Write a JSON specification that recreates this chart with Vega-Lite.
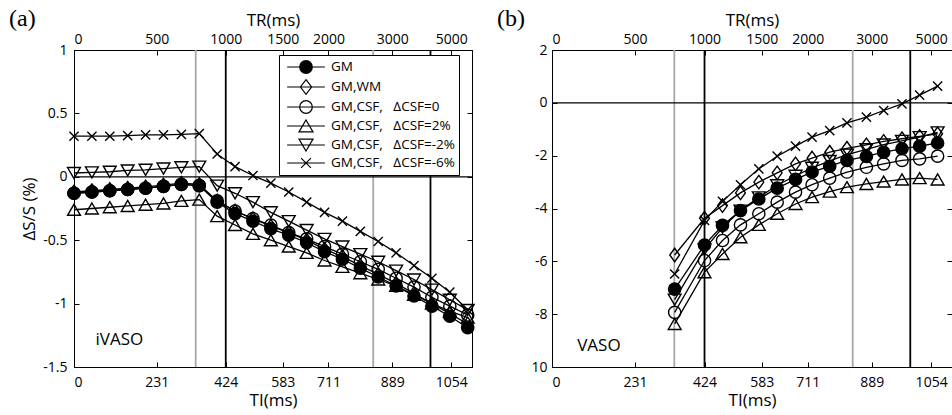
{
  "$schema": "https://vega.github.io/schema/vega-lite/v6.json",
  "background": "white",
  "padding": {"left": 8, "top": 6, "right": 0, "bottom": 0},
  "config": {
    "font": "Open Sans",
    "view": {"stroke": "black", "strokeWidth": 1},
    "axis": {"grid": false, "domainColor": "black", "tickColor": "black", "labelColor": "black", "titleColor": "black", "labelFont": "Open Sans", "titleFont": "Open Sans", "labelFontSize": 14, "titleFontSize": 17, "titleFontWeight": "normal", "tickSize": -5, "labelPadding": 6, "titlePadding": 3}
  },
  "datasets": {
    "a": [
      {"TI": 0, "GM": -0.13, "GM,WM": -0.12, "GM,CSF,\u00a0\u00a0\u00a0ΔCSF=0": -0.13, "GM,CSF,\u00a0\u00a0\u00a0ΔCSF=2%": -0.26, "GM,CSF,\u00a0\u00a0\u00a0ΔCSF=-2%": 0.03, "GM,CSF,\u00a0\u00a0\u00a0ΔCSF=-6%": 0.32},
      {"TI": 50, "GM": -0.12, "GM,WM": -0.11, "GM,CSF,\u00a0\u00a0\u00a0ΔCSF=0": -0.12, "GM,CSF,\u00a0\u00a0\u00a0ΔCSF=2%": -0.25, "GM,CSF,\u00a0\u00a0\u00a0ΔCSF=-2%": 0.035, "GM,CSF,\u00a0\u00a0\u00a0ΔCSF=-6%": 0.32},
      {"TI": 100, "GM": -0.11, "GM,WM": -0.10, "GM,CSF,\u00a0\u00a0\u00a0ΔCSF=0": -0.11, "GM,CSF,\u00a0\u00a0\u00a0ΔCSF=2%": -0.24, "GM,CSF,\u00a0\u00a0\u00a0ΔCSF=-2%": 0.04, "GM,CSF,\u00a0\u00a0\u00a0ΔCSF=-6%": 0.32},
      {"TI": 150, "GM": -0.10, "GM,WM": -0.09, "GM,CSF,\u00a0\u00a0\u00a0ΔCSF=0": -0.10, "GM,CSF,\u00a0\u00a0\u00a0ΔCSF=2%": -0.23, "GM,CSF,\u00a0\u00a0\u00a0ΔCSF=-2%": 0.05, "GM,CSF,\u00a0\u00a0\u00a0ΔCSF=-6%": 0.325},
      {"TI": 200, "GM": -0.09, "GM,WM": -0.08, "GM,CSF,\u00a0\u00a0\u00a0ΔCSF=0": -0.09, "GM,CSF,\u00a0\u00a0\u00a0ΔCSF=2%": -0.22, "GM,CSF,\u00a0\u00a0\u00a0ΔCSF=-2%": 0.055, "GM,CSF,\u00a0\u00a0\u00a0ΔCSF=-6%": 0.33},
      {"TI": 250, "GM": -0.075, "GM,WM": -0.065, "GM,CSF,\u00a0\u00a0\u00a0ΔCSF=0": -0.075, "GM,CSF,\u00a0\u00a0\u00a0ΔCSF=2%": -0.21, "GM,CSF,\u00a0\u00a0\u00a0ΔCSF=-2%": 0.065, "GM,CSF,\u00a0\u00a0\u00a0ΔCSF=-6%": 0.33},
      {"TI": 300, "GM": -0.06, "GM,WM": -0.05, "GM,CSF,\u00a0\u00a0\u00a0ΔCSF=0": -0.06, "GM,CSF,\u00a0\u00a0\u00a0ΔCSF=2%": -0.19, "GM,CSF,\u00a0\u00a0\u00a0ΔCSF=-2%": 0.075, "GM,CSF,\u00a0\u00a0\u00a0ΔCSF=-6%": 0.335},
      {"TI": 350, "GM": -0.07, "GM,WM": -0.06, "GM,CSF,\u00a0\u00a0\u00a0ΔCSF=0": -0.07, "GM,CSF,\u00a0\u00a0\u00a0ΔCSF=2%": -0.18, "GM,CSF,\u00a0\u00a0\u00a0ΔCSF=-2%": 0.08, "GM,CSF,\u00a0\u00a0\u00a0ΔCSF=-6%": 0.34},
      {"TI": 400, "GM": -0.20, "GM,WM": -0.19, "GM,CSF,\u00a0\u00a0\u00a0ΔCSF=0": -0.19, "GM,CSF,\u00a0\u00a0\u00a0ΔCSF=2%": -0.31, "GM,CSF,\u00a0\u00a0\u00a0ΔCSF=-2%": -0.07, "GM,CSF,\u00a0\u00a0\u00a0ΔCSF=-6%": 0.18},
      {"TI": 450, "GM": -0.29, "GM,WM": -0.27, "GM,CSF,\u00a0\u00a0\u00a0ΔCSF=0": -0.27, "GM,CSF,\u00a0\u00a0\u00a0ΔCSF=2%": -0.38, "GM,CSF,\u00a0\u00a0\u00a0ΔCSF=-2%": -0.13, "GM,CSF,\u00a0\u00a0\u00a0ΔCSF=-6%": 0.08},
      {"TI": 500, "GM": -0.35, "GM,WM": -0.33, "GM,CSF,\u00a0\u00a0\u00a0ΔCSF=0": -0.33, "GM,CSF,\u00a0\u00a0\u00a0ΔCSF=2%": -0.45, "GM,CSF,\u00a0\u00a0\u00a0ΔCSF=-2%": -0.20, "GM,CSF,\u00a0\u00a0\u00a0ΔCSF=-6%": 0.01},
      {"TI": 550, "GM": -0.41, "GM,WM": -0.39, "GM,CSF,\u00a0\u00a0\u00a0ΔCSF=0": -0.38, "GM,CSF,\u00a0\u00a0\u00a0ΔCSF=2%": -0.50, "GM,CSF,\u00a0\u00a0\u00a0ΔCSF=-2%": -0.28, "GM,CSF,\u00a0\u00a0\u00a0ΔCSF=-6%": -0.05},
      {"TI": 600, "GM": -0.46, "GM,WM": -0.44, "GM,CSF,\u00a0\u00a0\u00a0ΔCSF=0": -0.44, "GM,CSF,\u00a0\u00a0\u00a0ΔCSF=2%": -0.55, "GM,CSF,\u00a0\u00a0\u00a0ΔCSF=-2%": -0.35, "GM,CSF,\u00a0\u00a0\u00a0ΔCSF=-6%": -0.12},
      {"TI": 650, "GM": -0.52, "GM,WM": -0.50, "GM,CSF,\u00a0\u00a0\u00a0ΔCSF=0": -0.49, "GM,CSF,\u00a0\u00a0\u00a0ΔCSF=2%": -0.60, "GM,CSF,\u00a0\u00a0\u00a0ΔCSF=-2%": -0.42, "GM,CSF,\u00a0\u00a0\u00a0ΔCSF=-6%": -0.20},
      {"TI": 700, "GM": -0.59, "GM,WM": -0.57, "GM,CSF,\u00a0\u00a0\u00a0ΔCSF=0": -0.55, "GM,CSF,\u00a0\u00a0\u00a0ΔCSF=2%": -0.66, "GM,CSF,\u00a0\u00a0\u00a0ΔCSF=-2%": -0.49, "GM,CSF,\u00a0\u00a0\u00a0ΔCSF=-6%": -0.28},
      {"TI": 750, "GM": -0.65, "GM,WM": -0.63, "GM,CSF,\u00a0\u00a0\u00a0ΔCSF=0": -0.61, "GM,CSF,\u00a0\u00a0\u00a0ΔCSF=2%": -0.71, "GM,CSF,\u00a0\u00a0\u00a0ΔCSF=-2%": -0.55, "GM,CSF,\u00a0\u00a0\u00a0ΔCSF=-6%": -0.35},
      {"TI": 800, "GM": -0.72, "GM,WM": -0.70, "GM,CSF,\u00a0\u00a0\u00a0ΔCSF=0": -0.67, "GM,CSF,\u00a0\u00a0\u00a0ΔCSF=2%": -0.76, "GM,CSF,\u00a0\u00a0\u00a0ΔCSF=-2%": -0.61, "GM,CSF,\u00a0\u00a0\u00a0ΔCSF=-6%": -0.43},
      {"TI": 850, "GM": -0.79, "GM,WM": -0.77, "GM,CSF,\u00a0\u00a0\u00a0ΔCSF=0": -0.73, "GM,CSF,\u00a0\u00a0\u00a0ΔCSF=2%": -0.81, "GM,CSF,\u00a0\u00a0\u00a0ΔCSF=-2%": -0.67, "GM,CSF,\u00a0\u00a0\u00a0ΔCSF=-6%": -0.51},
      {"TI": 900, "GM": -0.86, "GM,WM": -0.84, "GM,CSF,\u00a0\u00a0\u00a0ΔCSF=0": -0.80, "GM,CSF,\u00a0\u00a0\u00a0ΔCSF=2%": -0.86, "GM,CSF,\u00a0\u00a0\u00a0ΔCSF=-2%": -0.74, "GM,CSF,\u00a0\u00a0\u00a0ΔCSF=-6%": -0.60},
      {"TI": 950, "GM": -0.94, "GM,WM": -0.92, "GM,CSF,\u00a0\u00a0\u00a0ΔCSF=0": -0.87, "GM,CSF,\u00a0\u00a0\u00a0ΔCSF=2%": -0.93, "GM,CSF,\u00a0\u00a0\u00a0ΔCSF=-2%": -0.81, "GM,CSF,\u00a0\u00a0\u00a0ΔCSF=-6%": -0.70},
      {"TI": 1000, "GM": -1.02, "GM,WM": -1.00, "GM,CSF,\u00a0\u00a0\u00a0ΔCSF=0": -0.95, "GM,CSF,\u00a0\u00a0\u00a0ΔCSF=2%": -1.00, "GM,CSF,\u00a0\u00a0\u00a0ΔCSF=-2%": -0.89, "GM,CSF,\u00a0\u00a0\u00a0ΔCSF=-6%": -0.80},
      {"TI": 1050, "GM": -1.10, "GM,WM": -1.08, "GM,CSF,\u00a0\u00a0\u00a0ΔCSF=0": -1.02, "GM,CSF,\u00a0\u00a0\u00a0ΔCSF=2%": -1.06, "GM,CSF,\u00a0\u00a0\u00a0ΔCSF=-2%": -0.97, "GM,CSF,\u00a0\u00a0\u00a0ΔCSF=-6%": -0.91},
      {"TI": 1100, "GM": -1.19, "GM,WM": -1.16, "GM,CSF,\u00a0\u00a0\u00a0ΔCSF=0": -1.09, "GM,CSF,\u00a0\u00a0\u00a0ΔCSF=2%": -1.11, "GM,CSF,\u00a0\u00a0\u00a0ΔCSF=-2%": -1.05, "GM,CSF,\u00a0\u00a0\u00a0ΔCSF=-6%": -1.05}
    ],
    "b": [
      {"TI": 341, "GM": -7.05, "GM,WM": -5.76, "GM,CSF,\u00a0\u00a0\u00a0ΔCSF=0": -7.93, "GM,CSF,\u00a0\u00a0\u00a0ΔCSF=2%": -8.37, "GM,CSF,\u00a0\u00a0\u00a0ΔCSF=-2%": -7.45, "GM,CSF,\u00a0\u00a0\u00a0ΔCSF=-6%": -6.48},
      {"TI": 424, "GM": -5.38, "GM,WM": -4.37, "GM,CSF,\u00a0\u00a0\u00a0ΔCSF=0": -5.97, "GM,CSF,\u00a0\u00a0\u00a0ΔCSF=2%": -6.41, "GM,CSF,\u00a0\u00a0\u00a0ΔCSF=-2%": -5.55, "GM,CSF,\u00a0\u00a0\u00a0ΔCSF=-6%": -4.45},
      {"TI": 474, "GM": -4.64, "GM,WM": -3.89, "GM,CSF,\u00a0\u00a0\u00a0ΔCSF=0": -5.21, "GM,CSF,\u00a0\u00a0\u00a0ΔCSF=2%": -5.72, "GM,CSF,\u00a0\u00a0\u00a0ΔCSF=-2%": -4.72, "GM,CSF,\u00a0\u00a0\u00a0ΔCSF=-6%": -3.73},
      {"TI": 524, "GM": -4.08, "GM,WM": -3.41, "GM,CSF,\u00a0\u00a0\u00a0ΔCSF=0": -4.62, "GM,CSF,\u00a0\u00a0\u00a0ΔCSF=2%": -5.09, "GM,CSF,\u00a0\u00a0\u00a0ΔCSF=-2%": -4.08, "GM,CSF,\u00a0\u00a0\u00a0ΔCSF=-6%": -3.10},
      {"TI": 575, "GM": -3.64, "GM,WM": -3.00, "GM,CSF,\u00a0\u00a0\u00a0ΔCSF=0": -4.20, "GM,CSF,\u00a0\u00a0\u00a0ΔCSF=2%": -4.62, "GM,CSF,\u00a0\u00a0\u00a0ΔCSF=-2%": -3.58, "GM,CSF,\u00a0\u00a0\u00a0ΔCSF=-6%": -2.50},
      {"TI": 626, "GM": -3.23, "GM,WM": -2.65, "GM,CSF,\u00a0\u00a0\u00a0ΔCSF=0": -3.76, "GM,CSF,\u00a0\u00a0\u00a0ΔCSF=2%": -4.20, "GM,CSF,\u00a0\u00a0\u00a0ΔCSF=-2%": -3.12, "GM,CSF,\u00a0\u00a0\u00a0ΔCSF=-6%": -2.02},
      {"TI": 677, "GM": -2.90, "GM,WM": -2.31, "GM,CSF,\u00a0\u00a0\u00a0ΔCSF=0": -3.38, "GM,CSF,\u00a0\u00a0\u00a0ΔCSF=2%": -3.83, "GM,CSF,\u00a0\u00a0\u00a0ΔCSF=-2%": -2.76, "GM,CSF,\u00a0\u00a0\u00a0ΔCSF=-6%": -1.64},
      {"TI": 723, "GM": -2.62, "GM,WM": -2.09, "GM,CSF,\u00a0\u00a0\u00a0ΔCSF=0": -3.10, "GM,CSF,\u00a0\u00a0\u00a0ΔCSF=2%": -3.57, "GM,CSF,\u00a0\u00a0\u00a0ΔCSF=-2%": -2.46, "GM,CSF,\u00a0\u00a0\u00a0ΔCSF=-6%": -1.30},
      {"TI": 772, "GM": -2.40, "GM,WM": -1.87, "GM,CSF,\u00a0\u00a0\u00a0ΔCSF=0": -2.85, "GM,CSF,\u00a0\u00a0\u00a0ΔCSF=2%": -3.36, "GM,CSF,\u00a0\u00a0\u00a0ΔCSF=-2%": -2.20, "GM,CSF,\u00a0\u00a0\u00a0ΔCSF=-6%": -1.05},
      {"TI": 820, "GM": -2.18, "GM,WM": -1.72, "GM,CSF,\u00a0\u00a0\u00a0ΔCSF=0": -2.62, "GM,CSF,\u00a0\u00a0\u00a0ΔCSF=2%": -3.19, "GM,CSF,\u00a0\u00a0\u00a0ΔCSF=-2%": -1.96, "GM,CSF,\u00a0\u00a0\u00a0ΔCSF=-6%": -0.76},
      {"TI": 874, "GM": -2.03, "GM,WM": -1.59, "GM,CSF,\u00a0\u00a0\u00a0ΔCSF=0": -2.44, "GM,CSF,\u00a0\u00a0\u00a0ΔCSF=2%": -3.07, "GM,CSF,\u00a0\u00a0\u00a0ΔCSF=-2%": -1.76, "GM,CSF,\u00a0\u00a0\u00a0ΔCSF=-6%": -0.54},
      {"TI": 922, "GM": -1.87, "GM,WM": -1.46, "GM,CSF,\u00a0\u00a0\u00a0ΔCSF=0": -2.31, "GM,CSF,\u00a0\u00a0\u00a0ΔCSF=2%": -2.98, "GM,CSF,\u00a0\u00a0\u00a0ΔCSF=-2%": -1.58, "GM,CSF,\u00a0\u00a0\u00a0ΔCSF=-6%": -0.29},
      {"TI": 973, "GM": -1.74, "GM,WM": -1.36, "GM,CSF,\u00a0\u00a0\u00a0ΔCSF=0": -2.18, "GM,CSF,\u00a0\u00a0\u00a0ΔCSF=2%": -2.90, "GM,CSF,\u00a0\u00a0\u00a0ΔCSF=-2%": -1.44, "GM,CSF,\u00a0\u00a0\u00a0ΔCSF=-6%": -0.04},
      {"TI": 1022, "GM": -1.64, "GM,WM": -1.27, "GM,CSF,\u00a0\u00a0\u00a0ΔCSF=0": -2.12, "GM,CSF,\u00a0\u00a0\u00a0ΔCSF=2%": -2.85, "GM,CSF,\u00a0\u00a0\u00a0ΔCSF=-2%": -1.30, "GM,CSF,\u00a0\u00a0\u00a0ΔCSF=-6%": 0.29},
      {"TI": 1072, "GM": -1.52, "GM,WM": -1.17, "GM,CSF,\u00a0\u00a0\u00a0ΔCSF=0": -2.02, "GM,CSF,\u00a0\u00a0\u00a0ΔCSF=2%": -2.90, "GM,CSF,\u00a0\u00a0\u00a0ΔCSF=-2%": -1.12, "GM,CSF,\u00a0\u00a0\u00a0ΔCSF=-6%": 0.63}
    ],
    "vlines": [
      {"TI": 340, "kind": "gray"},
      {"TI": 424, "kind": "black"},
      {"TI": 836, "kind": "gray"},
      {"TI": 996, "kind": "black"}
    ]
  },
  "spacing": 18,
  "resolve": {"scale": {"shape": "independent", "fill": "independent", "stroke": "independent"}, "legend": {"shape": "independent", "fill": "independent"}},
  "hconcat": [
    {
      "width": 398,
      "height": 317,
      "title": {"text": "(a)", "anchor": "start", "frame": "group", "font": "Liberation Serif", "fontSize": 24, "fontWeight": "normal", "color": "black", "dx": -65, "dy": 20, "offset": 0},
      "resolve": {"axis": {"x": "independent", "y": "independent"}, "scale": {"shape": "independent"}, "legend": {"shape": "independent"}},
      "layer": [
        {
          "data": {"name": "vlines"},
          "mark": {"type": "rule", "strokeWidth": 1.8},
          "encoding": {
            "x": {"field": "TI", "type": "quantitative", "scale": {"domain": [0, 1112], "nice": false, "zero": false},
              "axis": {"orient": "top", "title": "TR(ms)", "labelPadding": 9, "values": [0, 231, 424, 583, 711, 889, 1054],
                "labelExpr": "datum.value == 231 ? '500' : datum.value == 424 ? '1000' : datum.value == 583 ? '1500' : datum.value == 711 ? '2000' : datum.value == 889 ? '3000' : datum.value == 1054 ? '5000' : '0'"}},
            "stroke": {"field": "kind", "type": "nominal", "scale": {"domain": ["black", "gray"], "range": ["#000000", "#a8a8a8"]}, "legend": null}
          }
        },
        {
          "data": {"values": [{"v": 0}]},
          "mark": {"type": "rule", "strokeWidth": 1.3, "color": "black"},
          "encoding": {
            "y": {"field": "v", "type": "quantitative", "scale": {"domain": [-1.5, 1], "nice": false, "zero": false},
              "axis": {"orient": "right", "labels": false, "title": null, "values": [1, 0.5, 0, -0.5, -1, -1.5]}}
          }
        },
        {
          "data": {"name": "a"},
          "transform": [{"fold": ["GM,WM", "GM,CSF,\u00a0\u00a0\u00a0ΔCSF=0", "GM,CSF,\u00a0\u00a0\u00a0ΔCSF=2%", "GM,CSF,\u00a0\u00a0\u00a0ΔCSF=-2%", "GM,CSF,\u00a0\u00a0\u00a0ΔCSF=-6%", "GM"], "as": ["series", "v"]}],
          "mark": {"type": "line", "stroke": "black", "strokeWidth": 1.3},
          "encoding": {
            "x": {"field": "TI", "type": "quantitative", "scale": {"domain": [0, 1112], "nice": false, "zero": false},
              "axis": {"orient": "bottom", "title": "TI(ms)", "labelPadding": 13, "values": [0, 231, 424, 583, 711, 889, 1054], "labelExpr": "'' + datum.value"}},
            "y": {"field": "v", "type": "quantitative", "scale": {"domain": [-1.5, 1], "nice": false, "zero": false},
              "axis": {"orient": "left", "title": "ΔS/S (%)", "labelPadding": 12, "titlePadding": 4, "values": [1, 0.5, 0, -0.5, -1, -1.5], "labelExpr": "'' + datum.value"}},
            "detail": {"field": "series", "type": "nominal"}
          }
        },
        {
          "data": {"name": "a"},
          "transform": [{"fold": ["GM,WM", "GM,CSF,\u00a0\u00a0\u00a0ΔCSF=0", "GM,CSF,\u00a0\u00a0\u00a0ΔCSF=2%", "GM,CSF,\u00a0\u00a0\u00a0ΔCSF=-2%", "GM,CSF,\u00a0\u00a0\u00a0ΔCSF=-6%", "GM"], "as": ["series", "v"]}],
          "mark": {"type": "point", "stroke": "black", "strokeWidth": 1.4, "opacity": 1, "size": 150},
          "encoding": {
            "x": {"field": "TI", "type": "quantitative", "scale": {"domain": [0, 1112], "nice": false, "zero": false}, "axis": null},
            "y": {"field": "v", "type": "quantitative", "scale": {"domain": [-1.5, 1], "nice": false, "zero": false}, "axis": null},
            "shape": {"field": "series", "type": "nominal",
              "scale": {"domain": ["GM", "GM,WM", "GM,CSF,\u00a0\u00a0\u00a0ΔCSF=0", "GM,CSF,\u00a0\u00a0\u00a0ΔCSF=2%", "GM,CSF,\u00a0\u00a0\u00a0ΔCSF=-2%", "GM,CSF,\u00a0\u00a0\u00a0ΔCSF=-6%"],
                "range": ["circle", "M0,-1.1L0.8,0L0,1.1L-0.8,0Z", "circle", "M0,-0.9L1.05,0.9L-1.05,0.9Z", "M0,0.9L1.05,-0.9L-1.05,-0.9Z", "M-0.75,-0.75L0.75,0.75M-0.75,0.75L0.75,-0.75"]},
              "legend": null},
            "fill": {"field": "series", "type": "nominal",
              "scale": {"domain": ["GM", "GM,WM", "GM,CSF,\u00a0\u00a0\u00a0ΔCSF=0", "GM,CSF,\u00a0\u00a0\u00a0ΔCSF=2%", "GM,CSF,\u00a0\u00a0\u00a0ΔCSF=-2%", "GM,CSF,\u00a0\u00a0\u00a0ΔCSF=-6%"],
                "range": ["black", "transparent", "transparent", "transparent", "transparent", "transparent"]},
              "legend": null}
          }
        },
        {
          "data": {"name": "a"},
          "transform": [{"fold": ["GM", "GM,WM", "GM,CSF,\u00a0\u00a0\u00a0ΔCSF=0", "GM,CSF,\u00a0\u00a0\u00a0ΔCSF=2%", "GM,CSF,\u00a0\u00a0\u00a0ΔCSF=-2%", "GM,CSF,\u00a0\u00a0\u00a0ΔCSF=-6%"], "as": ["series", "v"]}, {"filter": "datum.TI == 600"}],
          "mark": {"type": "point", "stroke": "black", "strokeWidth": 1.2, "opacity": 0, "size": 196},
          "encoding": {
            "x": {"field": "TI", "type": "quantitative", "scale": {"domain": [0, 1112], "nice": false, "zero": false}, "axis": null},
            "y": {"field": "v", "type": "quantitative", "scale": {"domain": [-1.5, 1], "nice": false, "zero": false}, "axis": null},
            "shape": {"field": "series", "type": "nominal",
              "scale": {"domain": ["GM", "GM,WM", "GM,CSF,\u00a0\u00a0\u00a0ΔCSF=0", "GM,CSF,\u00a0\u00a0\u00a0ΔCSF=2%", "GM,CSF,\u00a0\u00a0\u00a0ΔCSF=-2%", "GM,CSF,\u00a0\u00a0\u00a0ΔCSF=-6%"],
                "range": [
                  "M-2.7,0L2.7,0M0.9,0A0.9,0.9,0,1,1,-0.9,0A0.9,0.9,0,1,1,0.9,0ZM0.76,0A0.76,0.76,0,1,1,-0.76,0A0.76,0.76,0,1,1,0.76,0ZM0.62,0A0.62,0.62,0,1,1,-0.62,0A0.62,0.62,0,1,1,0.62,0ZM0.48,0A0.48,0.48,0,1,1,-0.48,0A0.48,0.48,0,1,1,0.48,0ZM0.34,0A0.34,0.34,0,1,1,-0.34,0A0.34,0.34,0,1,1,0.34,0ZM0.2,0A0.2,0.2,0,1,1,-0.2,0A0.2,0.2,0,1,1,0.2,0ZM0.08,0A0.08,0.08,0,1,1,-0.08,0A0.08,0.08,0,1,1,0.08,0Z",
                  "M-2.7,0L2.7,0M0,-1.05L0.8,0L0,1.05L-0.8,0Z",
                  "M-2.7,0L2.7,0M0.9,0A0.9,0.9,0,1,1,-0.9,0A0.9,0.9,0,1,1,0.9,0Z",
                  "M-2.7,0L2.7,0M0,-0.85L1,0.85L-1,0.85Z",
                  "M-2.7,0L2.7,0M0,0.85L1,-0.85L-1,-0.85Z",
                  "M-2.7,0L2.7,0M-0.7,-0.7L0.7,0.7M-0.7,0.7L0.7,-0.7"]},
              "legend": {"orient": "none", "legendX": 205, "legendY": 5, "title": null, "padding": 4, "strokeColor": "black", "fillColor": "white", "symbolSize": 196, "symbolOffset": 15, "labelOffset": 17, "labelFontSize": 13.5, "labelFont": "Open Sans", "labelColor": "black", "rowPadding": 1, "symbolStrokeColor": "black", "symbolStrokeWidth": 1.2, "symbolOpacity": 1,
                "labelExpr": "datum.label + '\u00a0\u00a0\u00a0\u00a0'"}}
          }
        },
        {
          "data": {"values": [{"TI": 60, "v": -1.29, "label": "iVASO"}]},
          "mark": {"type": "text", "align": "left", "baseline": "middle", "fontSize": 17, "font": "Open Sans", "color": "black"},
          "encoding": {
            "x": {"field": "TI", "type": "quantitative", "scale": {"domain": [0, 1112], "nice": false, "zero": false}, "axis": null},
            "y": {"field": "v", "type": "quantitative", "scale": {"domain": [-1.5, 1], "nice": false, "zero": false}, "axis": null},
            "text": {"field": "label"}
          }
        }
      ]
    },
    {
      "width": 400,
      "height": 317,
      "title": {"text": "(b)", "anchor": "start", "frame": "group", "font": "Liberation Serif", "fontSize": 24, "fontWeight": "normal", "color": "black", "dx": -55, "dy": 20, "offset": 0},
      "resolve": {"axis": {"x": "independent", "y": "independent"}},
      "layer": [
        {
          "data": {"name": "vlines"},
          "mark": {"type": "rule", "strokeWidth": 1.8},
          "encoding": {
            "x": {"field": "TI", "type": "quantitative", "scale": {"domain": [0, 1112], "nice": false, "zero": false},
              "axis": {"orient": "top", "title": "TR(ms)", "labelPadding": 9, "values": [0, 231, 424, 583, 711, 889, 1054],
                "labelExpr": "datum.value == 231 ? '500' : datum.value == 424 ? '1000' : datum.value == 583 ? '1500' : datum.value == 711 ? '2000' : datum.value == 889 ? '3000' : datum.value == 1054 ? '5000' : '0'"}},
            "stroke": {"field": "kind", "type": "nominal", "scale": {"domain": ["black", "gray"], "range": ["#000000", "#a8a8a8"]}, "legend": null}
          }
        },
        {
          "data": {"values": [{"v": 0}]},
          "mark": {"type": "rule", "strokeWidth": 1.3, "color": "black"},
          "encoding": {
            "y": {"field": "v", "type": "quantitative", "scale": {"domain": [-10, 2], "nice": false, "zero": false},
              "axis": {"orient": "right", "labels": false, "title": null, "values": [2, 0, -2, -4, -6, -8, -10]}}
          }
        },
        {
          "data": {"name": "b"},
          "transform": [{"fold": ["GM,WM", "GM,CSF,\u00a0\u00a0\u00a0ΔCSF=0", "GM,CSF,\u00a0\u00a0\u00a0ΔCSF=2%", "GM,CSF,\u00a0\u00a0\u00a0ΔCSF=-2%", "GM,CSF,\u00a0\u00a0\u00a0ΔCSF=-6%", "GM"], "as": ["series", "v"]}],
          "mark": {"type": "line", "stroke": "black", "strokeWidth": 1.3},
          "encoding": {
            "x": {"field": "TI", "type": "quantitative", "scale": {"domain": [0, 1112], "nice": false, "zero": false},
              "axis": {"orient": "bottom", "title": "TI(ms)", "labelPadding": 13, "values": [0, 231, 424, 583, 711, 889, 1054], "labelExpr": "'' + datum.value"}},
            "y": {"field": "v", "type": "quantitative", "scale": {"domain": [-10, 2], "nice": false, "zero": false},
              "axis": {"orient": "left", "title": null, "labelPadding": 10, "values": [2, 0, -2, -4, -6, -8, -10], "labelExpr": "datum.value == -10 ? '10' : '' + datum.value"}},
            "detail": {"field": "series", "type": "nominal"}
          }
        },
        {
          "data": {"name": "b"},
          "transform": [{"fold": ["GM,WM", "GM,CSF,\u00a0\u00a0\u00a0ΔCSF=0", "GM,CSF,\u00a0\u00a0\u00a0ΔCSF=2%", "GM,CSF,\u00a0\u00a0\u00a0ΔCSF=-2%", "GM,CSF,\u00a0\u00a0\u00a0ΔCSF=-6%", "GM"], "as": ["series", "v"]}],
          "mark": {"type": "point", "stroke": "black", "strokeWidth": 1.4, "opacity": 1, "size": 150},
          "encoding": {
            "x": {"field": "TI", "type": "quantitative", "scale": {"domain": [0, 1112], "nice": false, "zero": false}, "axis": null},
            "y": {"field": "v", "type": "quantitative", "scale": {"domain": [-10, 2], "nice": false, "zero": false}, "axis": null},
            "shape": {"field": "series", "type": "nominal",
              "scale": {"domain": ["GM", "GM,WM", "GM,CSF,\u00a0\u00a0\u00a0ΔCSF=0", "GM,CSF,\u00a0\u00a0\u00a0ΔCSF=2%", "GM,CSF,\u00a0\u00a0\u00a0ΔCSF=-2%", "GM,CSF,\u00a0\u00a0\u00a0ΔCSF=-6%"],
                "range": ["circle", "M0,-1.1L0.8,0L0,1.1L-0.8,0Z", "circle", "M0,-0.9L1.05,0.9L-1.05,0.9Z", "M0,0.9L1.05,-0.9L-1.05,-0.9Z", "M-0.75,-0.75L0.75,0.75M-0.75,0.75L0.75,-0.75"]},
              "legend": null},
            "fill": {"field": "series", "type": "nominal",
              "scale": {"domain": ["GM", "GM,WM", "GM,CSF,\u00a0\u00a0\u00a0ΔCSF=0", "GM,CSF,\u00a0\u00a0\u00a0ΔCSF=2%", "GM,CSF,\u00a0\u00a0\u00a0ΔCSF=-2%", "GM,CSF,\u00a0\u00a0\u00a0ΔCSF=-6%"],
                "range": ["black", "transparent", "transparent", "transparent", "transparent", "transparent"]},
              "legend": null}
          }
        },
        {
          "data": {"values": [{"TI": 70, "v": -9.2, "label": "VASO"}]},
          "mark": {"type": "text", "align": "left", "baseline": "middle", "fontSize": 17, "font": "Open Sans", "color": "black"},
          "encoding": {
            "x": {"field": "TI", "type": "quantitative", "scale": {"domain": [0, 1112], "nice": false, "zero": false}, "axis": null},
            "y": {"field": "v", "type": "quantitative", "scale": {"domain": [-10, 2], "nice": false, "zero": false}, "axis": null},
            "text": {"field": "label"}
          }
        }
      ]
    }
  ]
}
